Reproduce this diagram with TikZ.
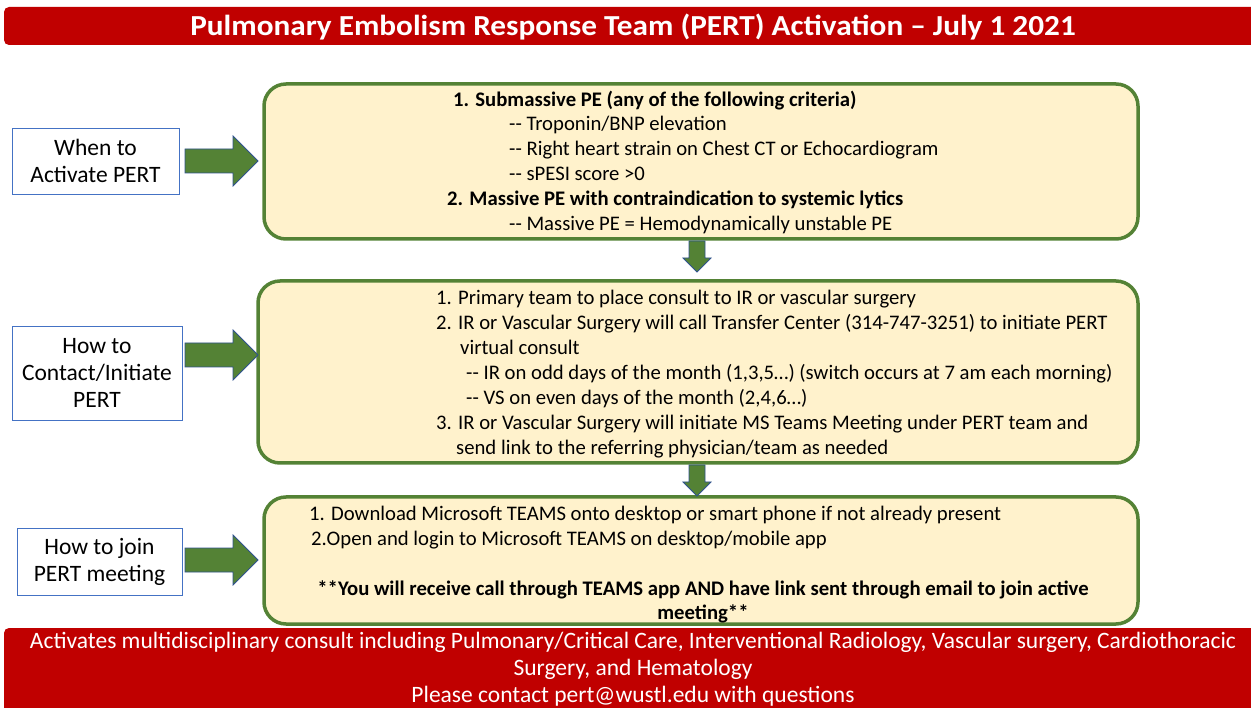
\documentclass[tikz,border=0pt]{standalone}
\usepackage{fontspec}
\setmainfont{Carlito}
\usetikzlibrary{calc}
\definecolor{pred}{HTML}{C00000}
\definecolor{pgreen}{HTML}{548235}
\definecolor{pfill}{HTML}{FFF2CC}
\definecolor{pblue}{HTML}{4472C4}
\definecolor{poutl}{HTML}{2F528F}
\tikzset{
  bar/.style={fill=pred, draw=none, rounded corners=5pt},
  stepbig/.style={draw=pgreen, line width=3.5pt, fill=pfill, rounded corners=22pt},
  lbl/.style={draw=pblue, line width=0.8pt, fill=white, align=center, font=\fontsize{23.5}{27}\selectfont, inner sep=0pt},
  txt/.style={anchor=west, inner sep=0pt, font=\fontsize{20.7}{25}\selectfont, text height=13pt, text depth=4pt, yshift=-2.5pt},
  btxt/.style={txt, font=\fontsize{20.7}{25}\selectfont\bfseries},
  blockarrow/.style={fill=pgreen, draw=poutl, line width=0.8pt, line join=miter},
}
\begin{document}
\begin{tikzpicture}[x=1pt,y=-1pt]
\useasboundingbox (0,0) rectangle (1251,708);
% title bar
\path[bar] (4,7) rectangle (1262,45);
\node[text=white, font=\fontsize{29}{32}\selectfont\bfseries, xscale=1.077] (title) at (633,27) {Pulmonary Embolism Response Team (PERT) Activation -- July 1 2021};
% bottom bar
\path[bar] (4,628) rectangle (1262,720);
\node[text=white, align=center, font=\fontsize{23.5}{27}\selectfont] (foot) at (633,669.5) {Activates multidisciplinary consult including Pulmonary/Critical Care, Interventional Radiology, Vascular surgery, Cardiothoracic\\Surgery, and Hematology\\Please contact pert@wustl.edu with questions};
% big boxes
\draw[stepbig] (264,84) rectangle (1138,239);
\draw[stepbig] (258,281) rectangle (1138,463);
\draw[stepbig] (264,497) rectangle (1138,624);
% left labels
\node[lbl, minimum width=167pt, minimum height=66pt] (l1) at (95.5,161) {When to\\Activate PERT};
\node[lbl, minimum width=170pt, minimum height=94pt] (l2) at (97,373) {How to\\Contact/Initiate\\PERT};
\node[lbl, minimum width=165pt, minimum height=67pt] (l3) at (99.5,561.5) {How to join\\PERT meeting};
% right block arrows
\foreach \y in {161,355,560}{
  \draw[blockarrow] (185,\y-12) -- (233,\y-12) -- (233,\y-25) -- (258,\y) -- (233,\y+25) -- (233,\y+12) -- (185,\y+12) -- cycle;
}
% down block arrows
\foreach \y in {241,465}{
  \draw[blockarrow] (689,\y) -- (705,\y) -- (705,\y+17) -- (711,\y+17) -- (697,\y+31) -- (683,\y+17) -- (689,\y+17) -- cycle;
}
% box 1 text
\node[btxt] (t11) at (453,100) {1. Submassive PE (any of the following criteria)};
\node[txt] (t12) at (509,124) {-{}- Troponin/BNP elevation};
\node[txt] (t13) at (509,149) {-{}- Right heart strain on Chest CT or Echocardiogram};
\node[txt] (t14) at (509,174) {-{}- sPESI score >0};
\node[btxt] (t15) at (447,199) {2. Massive PE with contraindication to systemic lytics};
\node[txt] (t16) at (509,224) {-{}- Massive PE = Hemodynamically unstable PE};
% box 2 text
\node[txt] (t21) at (436,298) {1. Primary team to place consult to IR or vascular surgery};
\node[txt] (t22) at (436,323) {2. IR or Vascular Surgery will call Transfer Center (314-747-3251) to initiate PERT};
\node[txt] (t23) at (460,348) {virtual consult};
\node[txt] (t24) at (466,373) {-{}- IR on odd days of the month (1,3,5…) (switch occurs at 7 am each morning)};
\node[txt] (t25) at (466,398) {-{}- VS on even days of the month (2,4,6…)};
\node[txt] (t26) at (436,423) {3. IR or Vascular Surgery will initiate MS Teams Meeting under PERT team and};
\node[txt] (t27) at (456,448) {send link to the referring physician/team as needed};
% box 3 text
\node[txt] (t31) at (309,513) {1. Download Microsoft TEAMS onto desktop or smart phone if not already present};
\node[txt] (t32) at (311,538) {2.Open and login to Microsoft TEAMS on desktop/mobile app};
\node[btxt, anchor=center] (t33) at (703,588) {**You will receive call through TEAMS app AND have link sent through email to join active};
\node[btxt, anchor=center] (t34) at (703,612) {meeting**};
\end{tikzpicture}
\end{document}
